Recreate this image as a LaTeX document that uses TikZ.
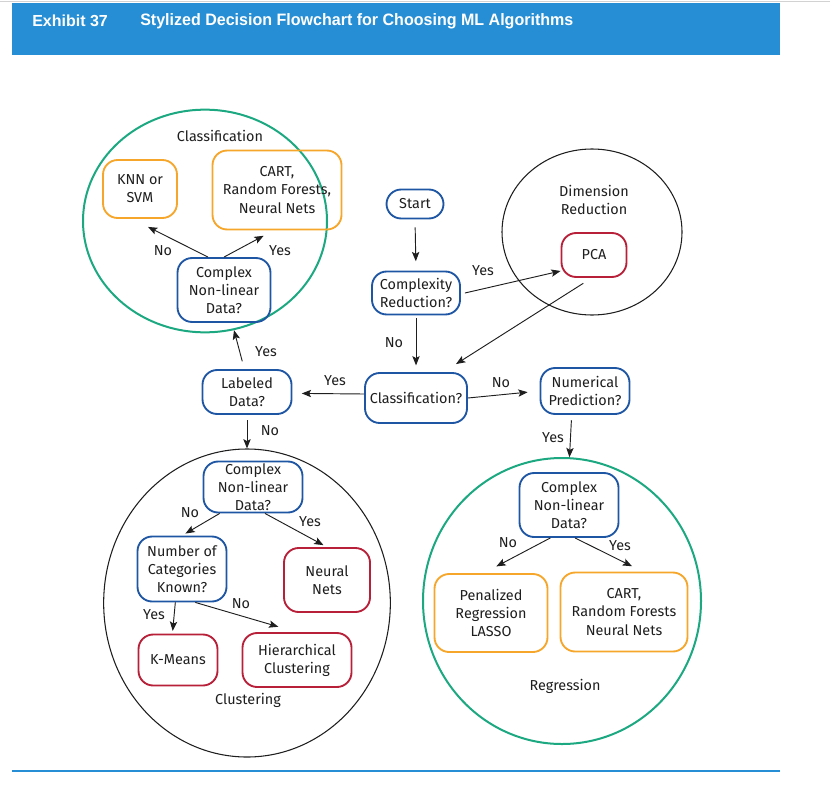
\documentclass[tikz,border=0pt]{standalone}
\usepackage{fontspec}
\setmainfont{Fira Sans}
\newfontfamily\headfont{Liberation Sans}
\usetikzlibrary{shapes.geometric,arrows.meta}
\definecolor{headblue}{RGB}{38,142,212}
\definecolor{askblue}{RGB}{31,86,164}
\definecolor{algorange}{RGB}{245,166,43}
\definecolor{algred}{RGB}{183,32,56}
\definecolor{zonegreen}{RGB}{28,168,128}
\definecolor{ink}{RGB}{30,30,30}
\tikzset{
	box/.style={draw, rounded corners=11pt, line width=1.4pt, align=center, inner sep=1pt, text=ink, font=\fontsize{10.8}{13.6}\selectfont},
	ask/.style={box, draw=askblue},
	algo/.style={box, draw=algorange},
	algr/.style={box, draw=algred},
	zone/.style={ellipse, draw, inner sep=0pt},
	lbl/.style={text=ink, font=\fontsize{10.8}{13.6}\selectfont, align=center},
	arr/.style={-{Stealth[length=7pt,width=5.5pt,inset=1.5pt]}, line width=0.7pt, ink}
}
\begin{document}
\begin{tikzpicture}[x=0.75pt, y=-0.75pt]
	\useasboundingbox (0,0) rectangle (830,788);
	% header
	\draw[gray!35, line width=1pt] (0,1.5) -- (830,1.5);
	\fill[headblue] (12,3) rectangle (780,55);
	\node[anchor=west, inner sep=0pt, text=white, font=\headfont\bfseries\fontsize{12}{14}\selectfont] (exhibit) at (32,21) {Exhibit 37};
	\node[anchor=west, inner sep=0pt, text=white, font=\headfont\bfseries\fontsize{12.4}{14}\selectfont] (title) at (140,21) {\scalebox{0.97}[1]{Stylized Decision Flowchart for Choosing ML Algorithms}};
	\draw[headblue, line width=2pt] (12,771) -- (780,771);
	% zones
	\node[zone, draw=zonegreen, line width=1.5pt, minimum width=183pt, minimum height=167pt] (clsZone) at (205,221) {};
	\node[zone, draw=ink, line width=0.8pt, minimum width=135pt, minimum height=124.5pt] (dimZone) at (592,232) {};
	\node[zone, draw=ink, line width=0.8pt, minimum width=215pt, minimum height=231pt] (cluZone) at (247,603) {};
	\node[zone, draw=zonegreen, line width=1.5pt, minimum width=208.5pt, minimum height=214.5pt] (regZone) at (562,601) {};
	\node[lbl] (clsName) at (220,136) {Classification};
	\node[lbl] (dimName) at (594,200) {Dimension\\Reduction};
	\node[lbl] (cluName) at (248,700) {Clustering};
	\node[lbl] (regName) at (565,686) {Regression};
	% main path
	\node[ask, minimum width=42.75pt, minimum height=21.75pt] (start) at (415,204) {Start};
	\node[ask, minimum width=66pt, minimum height=32.25pt] (cplx) at (416,293) {Complexity\\Reduction?};
	\node[algr, minimum width=48.75pt, minimum height=33pt] (pca) at (594,255) {PCA};
	\node[ask, minimum width=76.5pt, minimum height=37.5pt] (classq) at (416,398) {Classification?};
	\node[ask, minimum width=66.75pt, minimum height=34.5pt] (numq) at (585,391) {Numerical\\Prediction?};
	\node[ask, minimum width=66.75pt, minimum height=33pt] (labq) at (247,392) {Labeled\\Data?};
	% classification
	\node[algo, minimum width=55.5pt, minimum height=43.5pt] (knn) at (140,189) {KNN or\\SVM};
	\node[algo, minimum width=96.75pt, minimum height=59.25pt] (cartA) at (277,190) {CART,\\Random Forests,\\Neural Nets};
	\node[ask, minimum width=69.75pt, minimum height=48pt] (nlinA) at (224,290) {Complex\\Non-linear\\Data?};
	% clustering
	\node[ask, minimum width=74.25pt, minimum height=38.25pt] (nlinB) at (253,487) {Complex\\Non-linear\\Data?};
	\node[ask, minimum width=66.75pt, minimum height=48.75pt] (catq) at (182,569) {Number of\\Categories\\Known?};
	\node[algr, minimum width=64.5pt, minimum height=48pt] (nnets) at (327,580) {Neural\\Nets};
	\node[algr, minimum width=59.25pt, minimum height=38.25pt] (kmeans) at (178,660) {K-Means};
	\node[algr, minimum width=81.75pt, minimum height=40.5pt] (hclust) at (297,660) {Hierarchical\\Clustering};
	% regression
	\node[ask, minimum width=74.25pt, minimum height=48pt] (nlinC) at (569,505) {Complex\\Non-linear\\Data?};
	\node[algo, minimum width=84.75pt, minimum height=58.5pt] (lasso) at (491,613) {Penalized\\Regression\\LASSO};
	\node[algo, minimum width=95.25pt, minimum height=59.25pt] (cartB) at (624,612) {CART,\\Random Forests\\Neural Nets};
	% arrows
	\draw[arr, shorten <=6pt, shorten >=7pt] (start.south) -- (cplx.north);
	\draw[arr, shorten <=2pt, shorten >=5pt] (cplx.south) -- (classq.north);
	\draw[arr] ([xshift=3pt]cplx.east) -- ([yshift=-12pt]pca.west);
	\draw[arr] ([xshift=-8pt,yshift=-4pt]pca.south) -- ([xshift=30pt,yshift=6pt]classq.north);
	\draw[arr, shorten >=9pt] (classq.east) -- (numq.west);
	\draw[arr, shorten >=7pt] ([yshift=3pt]classq.west) -- ([yshift=-1pt]labq.east);
	\draw[arr, shorten <=6pt] ([xshift=-2pt]labq.north) -- (clsZone);
	\draw[arr, shorten <=4pt] (labq.south) -- (cluZone);
	\draw[arr, shorten <=4pt] ([xshift=-10pt]numq.south) -- (regZone);
	\draw[arr] ([xshift=-12pt]nlinA.north) -- ([xshift=6pt,yshift=-6pt]knn.south);
	\draw[arr] (nlinA.north) -- ([xshift=-10pt,yshift=-4pt]cartA.south);
	\draw[arr, shorten >=3pt] ([xshift=-25pt]nlinB.south) -- (catq.north);
	\draw[arr, shorten >=3pt] ([xshift=9pt]nlinB.south) -- (nnets.north);
	\draw[arr] ([xshift=-5pt]catq.south) -- ([xshift=-4pt,yshift=2pt]kmeans.north);
	\draw[arr] ([xshift=10pt]catq.south) -- ([xshift=-14pt,yshift=4pt]hclust.north);
	\draw[arr] ([xshift=-14pt]nlinC.south) -- ([xshift=4pt,yshift=5pt]lasso.north);
	\draw[arr] ([xshift=4.5pt]nlinC.south) -- ([xshift=6pt,yshift=4pt]cartB.north);
	% yes / no
	\node[lbl] (noA) at (163,251) {No};
	\node[lbl] (yesA) at (280,251) {Yes};
	\node[lbl] (yesPca) at (483,271) {Yes};
	\node[lbl] (noCplx) at (394,343) {No};
	\node[lbl] (noClass) at (501,383) {No};
	\node[lbl] (yesClass) at (335,381) {Yes};
	\node[lbl] (yesLab) at (266,352) {Yes};
	\node[lbl] (noLab) at (270,431) {No};
	\node[lbl] (noB) at (190,513) {No};
	\node[lbl] (yesB) at (310,522) {Yes};
	\node[lbl] (yesCat) at (154,615) {Yes};
	\node[lbl] (noCat) at (241,604) {No};
	\node[lbl] (yesNum) at (553,438) {Yes};
	\node[lbl] (noC) at (508,543) {No};
	\node[lbl] (yesC) at (620,546) {Yes};
\end{tikzpicture}
\end{document}
